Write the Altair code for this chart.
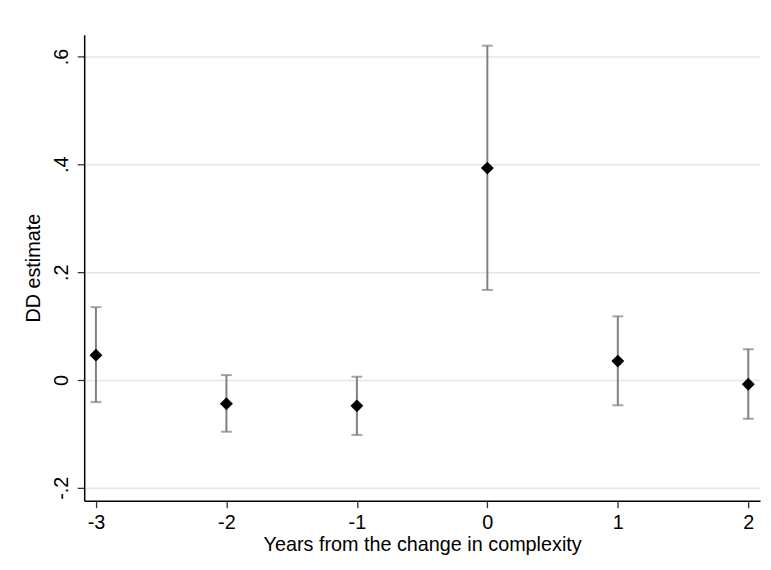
import altair as alt
import pandas as pd

years = [-3, -2, -1, 0, 1, 2]
estimate = [0.046, -0.044, -0.048, 0.393, 0.035, -0.008]
upper = [0.135, 0.009, 0.006, 0.620, 0.118, 0.057]
lower = [-0.041, -0.096, -0.102, 0.167, -0.047, -0.072]

df = pd.DataFrame({"year": years, "est": estimate, "hi": upper, "lo": lower})

FONT = "Arial, Liberation Sans"
xscale = alt.Scale(domain=[-3.09, 2.09], nice=False, zero=False)
yscale = alt.Scale(domain=[-0.224, 0.6405], nice=False, zero=False)

xenc = alt.X("year:Q", scale=xscale,
             axis=alt.Axis(values=years, title="Years from the change in complexity",
                           labelExpr="replace(format(datum.value, 'd'), '\u2212', '-')",
                           grid=False, domainColor="black", domainWidth=1.5,
                           tickColor="#333333", tickWidth=1.3, tickSize=7, labelPadding=5,
                           labelFont=FONT, labelFontSize=20, labelColor="black",
                           titleFont=FONT, titleFontSize=20, titleFontWeight="normal",
                           titleColor="black", titlePadding=2))
yaxis = alt.Axis(values=[-0.2, 0, 0.2, 0.4, 0.6], title="DD estimate",
                 labelExpr="datum.value == 0 ? '0' : replace(replace(format(datum.value, '.1f'), '0.', '.'), '\u2212', '-')",
                 labelAngle=-90, labelAlign="center", labelBaseline="bottom",
                 grid=True, gridColor="#e6e6e6", gridWidth=1.5,
                 domainColor="black", domainWidth=1.5,
                 tickColor="#333333", tickWidth=1.3, tickSize=7, labelPadding=6,
                 labelFont=FONT, labelFontSize=20, labelColor="black",
                 titleFont=FONT, titleFontSize=20, titleFontWeight="normal",
                 titleColor="black", titlePadding=8)

base = alt.Chart(df)

bars = base.mark_rule(color="#7f7f7f", strokeWidth=2).encode(
    x=xenc,
    y=alt.Y("lo:Q", scale=yscale, axis=yaxis),
    y2="hi:Q",
)
cap_hi = base.mark_tick(color="#7f7f7f", orient="horizontal", size=11, thickness=2).encode(
    x="year:Q", y="hi:Q")
cap_lo = base.mark_tick(color="#7f7f7f", orient="horizontal", size=11, thickness=2).encode(
    x="year:Q", y="lo:Q")
pts = base.mark_point(shape="diamond", filled=True, color="black", size=170, opacity=1).encode(
    x="year:Q", y="est:Q")

chart = alt.layer(bars, cap_hi, cap_lo, pts).properties(
    width=683, height=471,
    autosize=alt.AutoSizeParams(type="none"),
    padding={"left": 77, "top": 24, "right": 3, "bottom": 60},
    background="white",
).configure_view(stroke=None)

chart.save("out.html", embed_options={"renderer": "svg", "actions": False})
